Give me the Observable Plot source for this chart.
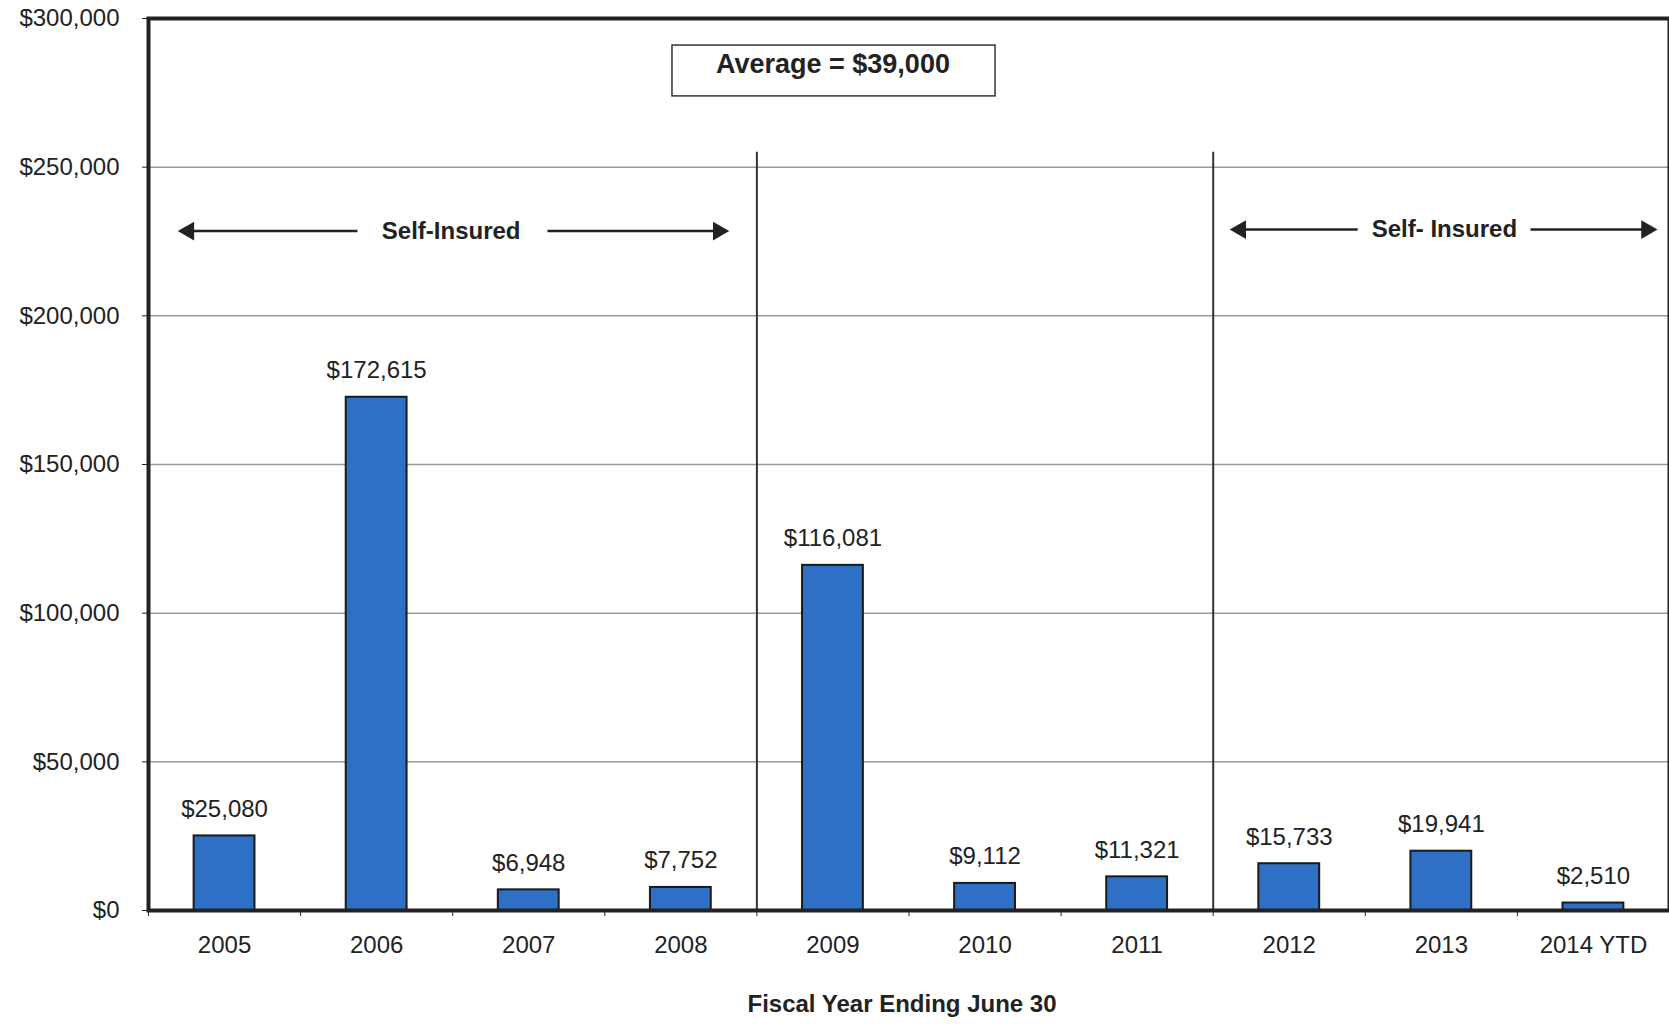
<!DOCTYPE html>
<html>
<head>
<meta charset="utf-8">
<script src="https://cdn.jsdelivr.net/npm/d3@7"></script>
<script src="https://cdn.jsdelivr.net/npm/@observablehq/plot@0.6"></script>
<style>
  html, body { margin: 0; padding: 0; background: #fff; }
  #chart svg { display: block; }
  #title {
    width: 1669px; box-sizing: border-box; padding-left: 138px; padding-right: 3px;
    text-align: center; font-family: "Liberation Sans", Arial, sans-serif;
    font-weight: bold; font-size: 24px; line-height: 26px; color: #222; padding-top: 16px;
  }
</style>
</head>
<body>
<div id="chart"></div>
<div id="title">Fiscal Year Ending June 30</div>
<script>
// ---- data ----
const years = ["2005", "2006", "2007", "2008", "2009", "2010", "2011", "2012", "2013", "2014 YTD"];
const values = [25080, 172615, 6948, 7752, 116081, 9112, 11321, 15733, 19941, 2510];
const yTicks = [0, 50000, 100000, 150000, 200000, 250000, 300000];
const periodStarts = ["2009", "2012"];           // vertical dividers before these years
const dividerTop = 255000;
const averageLabel = "Average = $39,000";
const averageBox = {x1: 3.445, x2: 5.569, y1: 273800, y2: 290900, tx: 4.5, ty: 284500};
const selfInsuredLabels = [
  {text: "Self-Insured", x: 1.99, y: 228500},
  {text: "Self- Insured", x: 8.52, y: 229000}
];
const arrows = [
  {x1: 1.374, x2: 0.264, y: 228500},
  {x1: 2.623, x2: 3.747, y: 228500},
  {x1: 7.95, x2: 7.18, y: 229000},
  {x1: 9.086, x2: 9.85, y: 229000}
];

// ---- build ----
const data = years.map((year, i) => ({year, i, value: values[i]}));
const barHalf = 0.2;
const fmt = d3.format(",");
const ink = "#222";
const font = "'Liberation Sans', Arial, sans-serif";

const chart = Plot.plot({
  width: 1669,
  height: 975,
  marginLeft: 148,
  marginRight: 0,
  marginTop: 18,
  marginBottom: 65,
  style: {fontFamily: font, fontSize: "24px", color: ink, background: "#fff"},
  x: {type: "linear", domain: [0, years.length]},
  y: {domain: [0, 300000]},
  marks: [
    Plot.ruleY(yTicks, {stroke: "#9a9a9a", strokeWidth: 1.5}),
    Plot.ruleX(periodStarts, {x: d => years.indexOf(d), y1: 0, y2: dividerTop, stroke: "#333", strokeWidth: 2}),
    Plot.rectY(data, {x1: d => d.i + 0.5 - barHalf, x2: d => d.i + 0.5 + barHalf, y: "value",
      fill: "#2e70c6", stroke: "#1a1a1a", strokeWidth: 2}),
    Plot.text(data, {x: d => d.i + 0.5, y: "value", text: d => "$" + fmt(d.value),
      dy: -19, lineAnchor: "bottom", fontSize: 24, fill: ink}),
    Plot.frame({stroke: ink, strokeWidth: 4}),
    Plot.axisY({ticks: yTicks, tickFormat: d => "$" + fmt(d), tickSize: 6, tickPadding: 23,
      fontSize: 24, label: null}),
    Plot.axisX({ticks: d3.range(years.length + 1), tickFormat: () => "", tickSize: 6, label: null}),
    Plot.axisX({ticks: years.map((_, i) => i + 0.5), tickFormat: t => years[Math.floor(t)],
      tickSize: 0, tickPadding: 25, fontSize: 24, label: null}),
    Plot.rect([averageBox], {x1: "x1", x2: "x2", y1: "y1", y2: "y2", fill: "#fff", stroke: "#333", strokeWidth: 1.5}),
    Plot.text([averageBox], {x: "tx", y: "ty", text: () => averageLabel, fontSize: 27, fontWeight: "bold", fill: ink}),
    Plot.link(arrows, {x1: "x1", x2: "x2", y1: "y", y2: "y", stroke: ink, strokeWidth: 2.5}),
    Plot.dot(arrows, {x: "x2", y: "y", symbol: "triangle", r: 7, fill: ink, stroke: "none",
      rotate: d => d.x2 > d.x1 ? 90 : -90}),
    Plot.text(selfInsuredLabels, {x: "x", y: "y", text: "text", fontSize: 24, fontWeight: "bold", fill: ink})
  ]
});
document.getElementById("chart").append(chart);
</script>
</body>
</html>
